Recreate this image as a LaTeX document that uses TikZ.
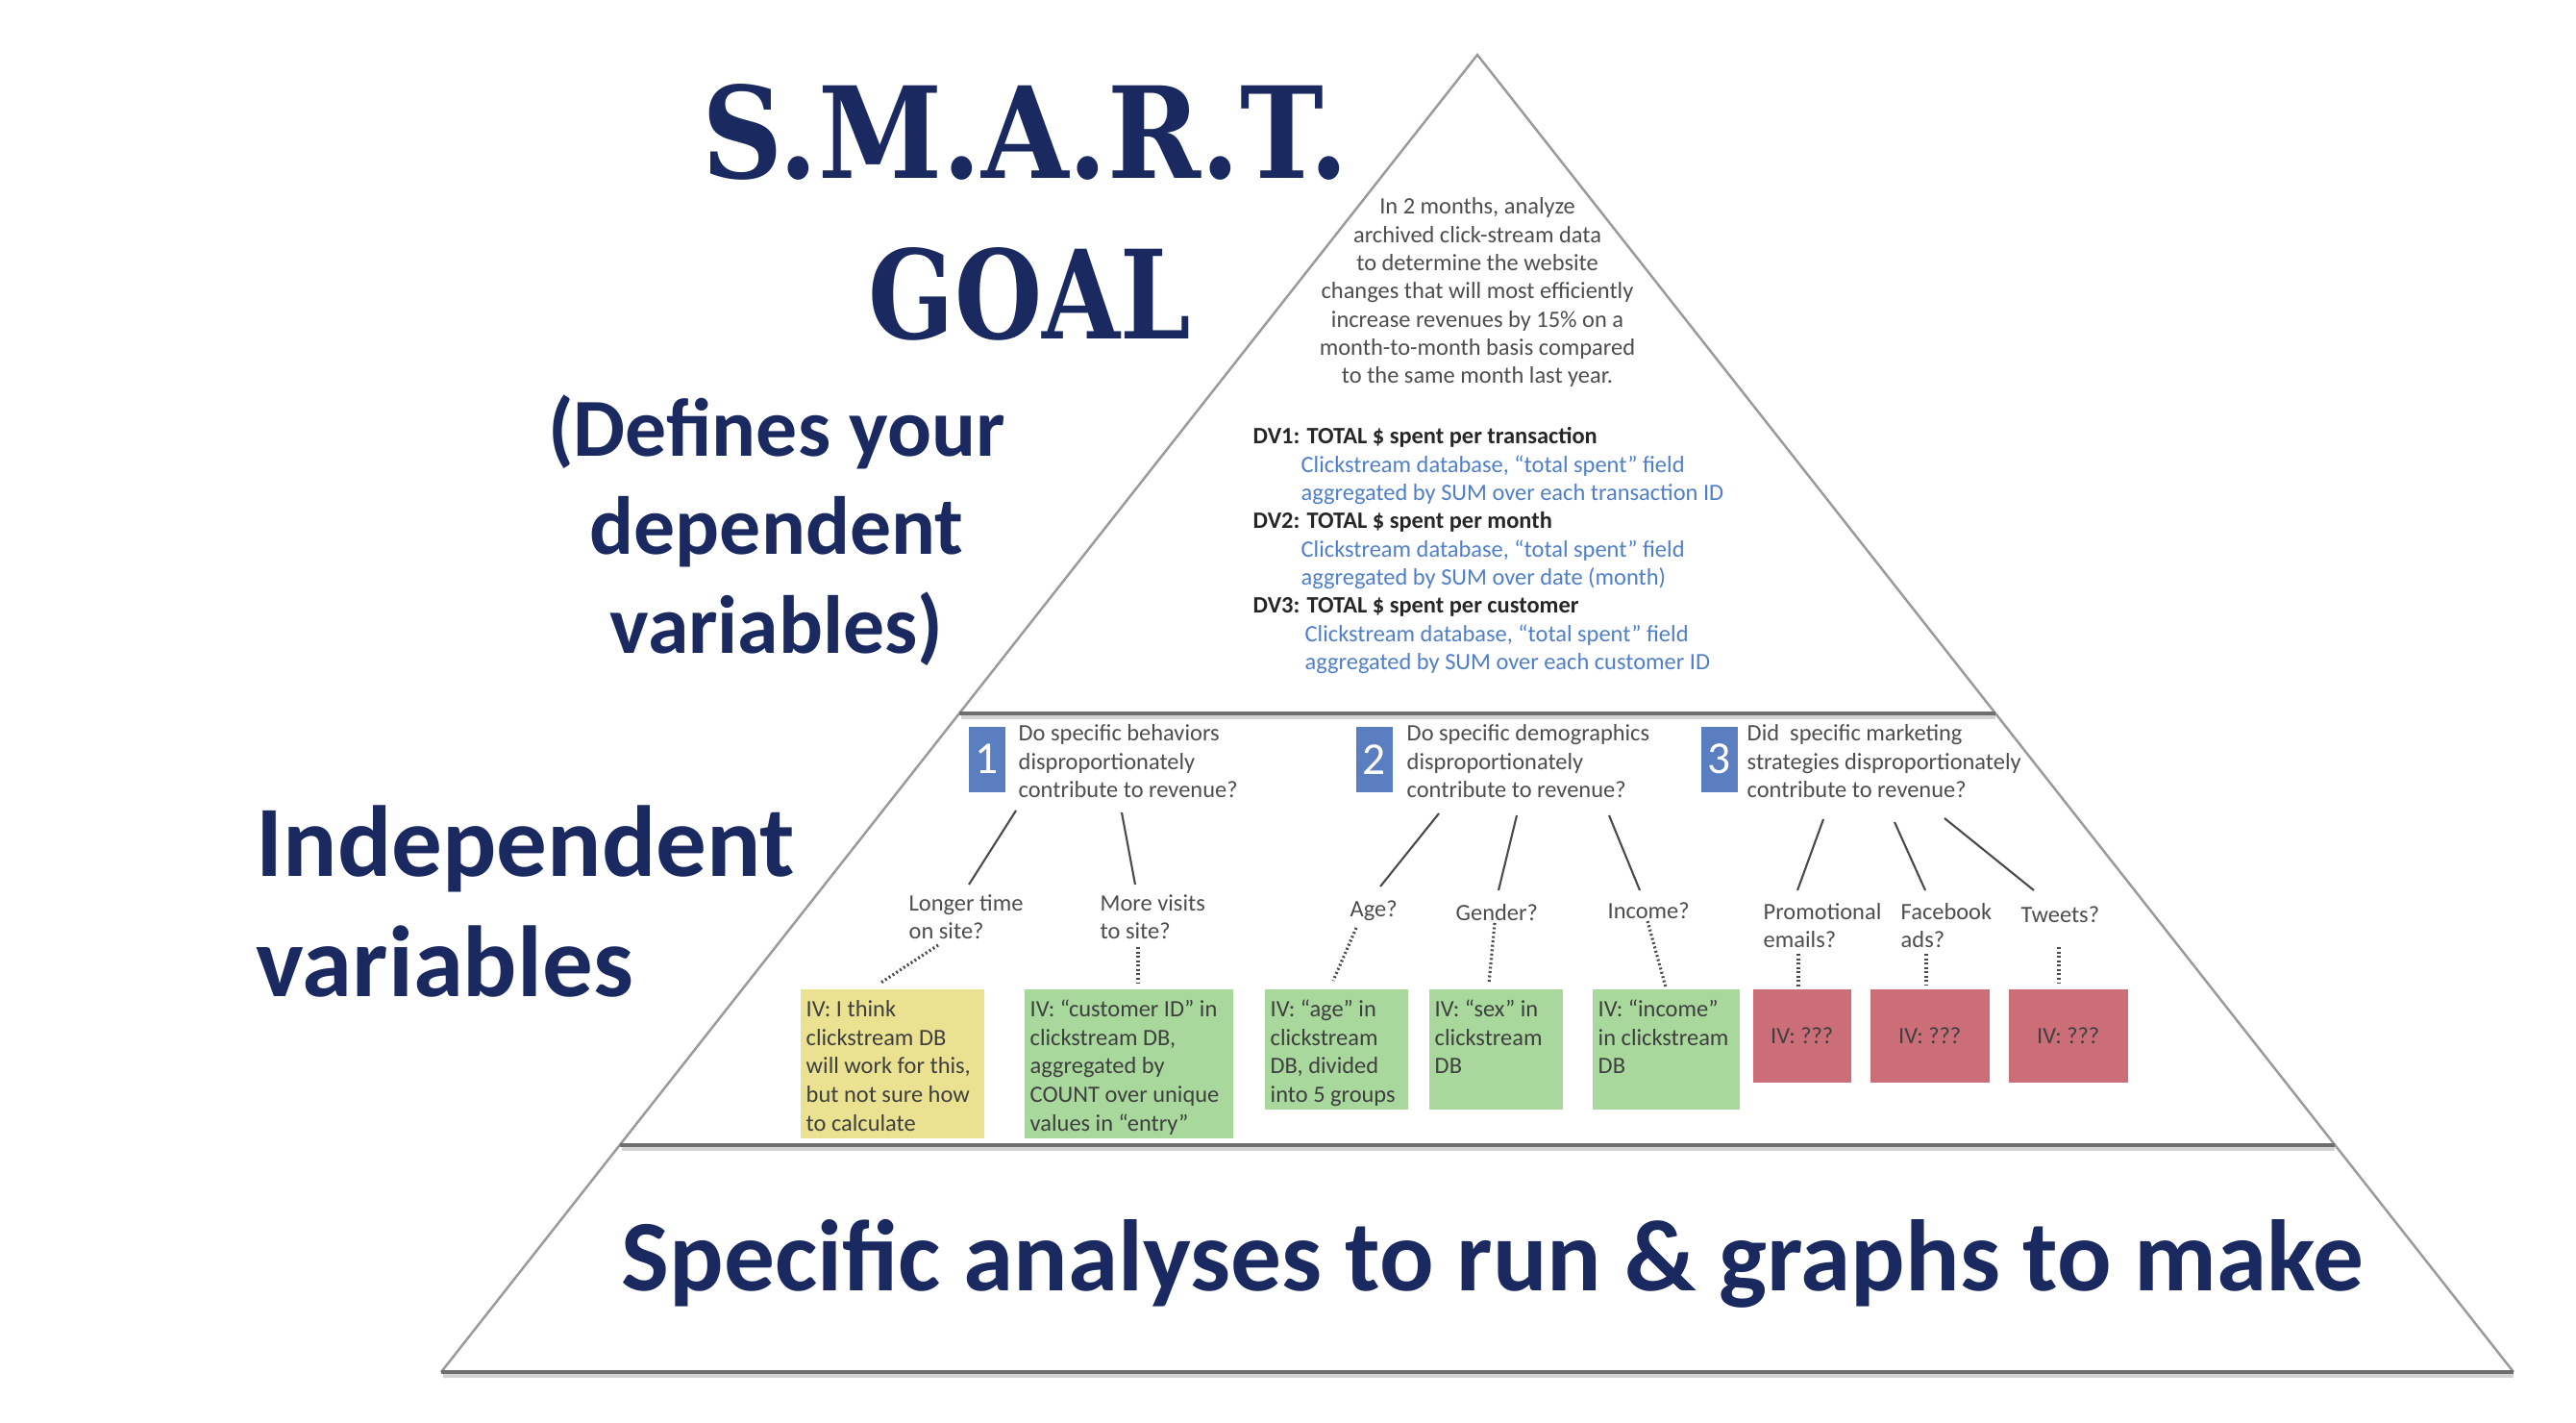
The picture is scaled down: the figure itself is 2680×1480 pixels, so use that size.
\documentclass[tikz,border=0pt]{standalone}
\usepackage{fontspec}
\setmainfont{Carlito}
\newfontfamily\titlefont{DejaVu Serif}
\usetikzlibrary{calc}

% one drawing unit = one pixel of a 2680 x 1480 canvas
\newlength\px
\setlength\px{0.1mm}

\definecolor{navy}{HTML}{1A2A60}
\definecolor{numblue}{HTML}{5B7EC0}
\definecolor{dvblue}{HTML}{4F7FCC}
\definecolor{txtgray}{HTML}{4D4D4D}
\definecolor{dvdark}{HTML}{262626}
\definecolor{boxtext}{HTML}{3F3F3F}
\definecolor{ivyellow}{HTML}{EAE290}
\definecolor{ivgreen}{HTML}{A8D89C}
\definecolor{ivred}{HTML}{CC6E78}
\definecolor{edgegray}{HTML}{9A9A9A}
\definecolor{rulegray}{HTML}{6E6E6E}
\definecolor{shadowgray}{HTML}{D2D2D2}
\definecolor{linkgray}{HTML}{4A4A4A}

\newcommand\smallfont{\fontsize{6.95}{8.35}\selectfont}
\newcommand\boxfont{\fontsize{6.95}{8.5}\selectfont}
% top-aligned text inside a filled box of given width and height (in px)
\newcommand\ivtext[3]{\parbox[b][#2\px][t]{#1\px}{\raggedright\leftskip=6\px
  \vspace*{7.5\px}\strut #3}}

\tikzset{
  small/.style={font=\smallfont, text=txtgray, inner sep=0pt,
    execute at begin node=\strut},
  bigtext/.style={font=\fontsize{29.9}{35.6}\selectfont\bfseries, text=navy,
    inner sep=0pt, execute at begin node=\strut},
  numbox/.style={fill=numblue, text=white, inner sep=0pt, anchor=north west,
    minimum width=3.8mm, minimum height=6.8mm,
    font=\fontsize{13.5}{16}\selectfont},
  ivbox/.style={inner sep=0pt, anchor=north west, font=\boxfont, text=boxtext},
  redbox/.style={fill=ivred, inner sep=0pt, anchor=north west,
    minimum height=9.7mm, font=\boxfont, text=boxtext},
  branch/.style={draw=linkgray, line width=0.6pt},
  dotlink/.style={draw=linkgray, line width=0.9pt, dash pattern=on 0.55pt off 0.75pt},
  edge/.style={draw=edgegray, line width=0.7pt},
  tierrule/.style={draw=rulegray, line width=1pt},
  tiershadow/.style={draw=shadowgray, line width=1.3pt},
}

\begin{document}
\begin{tikzpicture}[x=0.1mm, y=-0.1mm]
\fill[white] (0,0) rectangle (2680,1480);
\useasboundingbox (0,0) rectangle (2680,1480);

% ---------- pyramid outline and tier rules ----------
\coordinate (apex) at (1537,57);
\coordinate (bl) at (459,1427);
\coordinate (br) at (2615,1427);
\coordinate (r1l) at (998,742);
\coordinate (r1r) at (2076,742);
\coordinate (r2l) at (645,1191);
\coordinate (r2r) at (2429,1191);

\draw[tiershadow] ($(r1l)+(2,4)$) -- ($(r1r)+(0,4)$);
\draw[tiershadow] ($(r2l)+(2,4)$) -- ($(r2r)+(0,4)$);
\draw[tiershadow] ($(bl)+(2,4)$) -- ($(br)+(0,4)$);
\draw[edge] (bl) -- (apex) -- (br);
\draw[tierrule] (r1l) -- (r1r);
\draw[tierrule] (r2l) -- (r2r);
\draw[tierrule] (bl) -- (br);

% ---------- headings ----------
\node[anchor=base west, inner sep=0pt, text=navy] (smart) at (730,186)
  {\resizebox{672\px}{98\px}{\titlefont\bfseries S.M.A.R.T.}};
\node[anchor=base west, inner sep=0pt, text=navy] (goal) at (903,352)
  {\resizebox{335\px}{95\px}{\titlefont\bfseries GOAL}};

\node[font=\fontsize{24.4}{29.2}\selectfont\bfseries, text=navy, inner sep=0pt,
  execute at begin node=\strut, align=center, anchor=north] (defines) at (808,410)
  {(Defines your\\dependent\\variables)};

\node[bigtext, align=left, anchor=north west] (indep) at (266,837)
  {Independent\\variables};

\node[font=\fontsize{30}{36}\selectfont\bfseries, text=navy, inner sep=0pt,
  anchor=base] (analyses) at (1553,1342)
  {Specific analyses to run \& graphs to make};

% ---------- goal statement and dependent variables ----------
\node[small, align=center, anchor=north] (goaltext) at (1537,205)
  {In 2 months, analyze\\archived click-stream data\\to determine the website\\
   changes that will most efficiently\\increase revenues by 15\% on a\\
   month-to-month basis compared\\to the same month last year.};

\node[small, align=left, anchor=north west] (dvs) at (1303,444)
  {{\color{dvdark}\bfseries DV1: TOTAL \$ spent per transaction}\\
   \hspace*{50\px}{\color{dvblue}Clickstream database, “total spent” field}\\
   \hspace*{50\px}{\color{dvblue}aggregated by SUM over each transaction ID}\\
   {\color{dvdark}\bfseries DV2: TOTAL \$ spent per month}\\
   \hspace*{50\px}{\color{dvblue}Clickstream database, “total spent” field}\\
   \hspace*{50\px}{\color{dvblue}aggregated by SUM over date (month)}\\
   {\color{dvdark}\bfseries DV3: TOTAL \$ spent per customer}\\
   \hspace*{54\px}{\color{dvblue}Clickstream database, “total spent” field}\\
   \hspace*{54\px}{\color{dvblue}aggregated by SUM over each customer ID}};

% ---------- research questions ----------
\node[numbox] (n1) at (1007,755) {1};
\node[numbox] (n2) at (1410,755) {2};
\node[numbox] (n3) at (1769,755) {3};

\node[small, align=left, anchor=north west] (q1) at (1059,753)
  {Do specific behaviors\\disproportionately\\contribute to revenue?};
\node[small, align=left, anchor=north west] (q2) at (1463,753)
  {Do specific demographics\\disproportionately\\contribute to revenue?};
\node[small, align=left, anchor=north west] (q3) at (1817,753)
  {Did\ \ specific marketing\\strategies disproportionately\\contribute to revenue?};

% ---------- candidate factors ----------
\node[small, align=left, anchor=north west] (l1) at (945,929.5) {Longer time\\on site?};
\node[small, align=left, anchor=north west] (l2) at (1144,929.5) {More visits\\to site?};
\node[small, anchor=north west] (l3) at (1404,932) {Age?};
\node[small, anchor=north west] (l4) at (1514,936) {Gender?};
\node[small, anchor=north west] (l5) at (1672,934) {Income?};
\node[small, align=left, anchor=north west] (l6) at (1834,938.5) {Promotional\\emails?};
\node[small, align=left, anchor=north west] (l7) at (1977,938.5) {Facebook\\ads?};
\node[small, anchor=north west] (l8) at (2102,938.5) {Tweets?};

% ---------- independent variable boxes ----------
\node[ivbox, fill=ivyellow] (iv1) at (832,1028)
  {\ivtext{191}{155}{IV: I think\\clickstream DB\\will work for this,\\but not sure how\\to calculate}};
\node[ivbox, fill=ivgreen] (iv2) at (1065,1028)
  {\ivtext{217}{155}{IV: “customer ID” in\\clickstream DB,\\aggregated by\\COUNT over unique\\values in “entry”}};
\node[ivbox, fill=ivgreen] (iv3) at (1315,1028)
  {\ivtext{149}{125}{IV: “age” in\\clickstream\\DB, divided\\into 5 groups}};
\node[ivbox, fill=ivgreen] (iv4) at (1486,1028)
  {\ivtext{139}{125}{IV: “sex” in\\clickstream\\DB}};
\node[ivbox, fill=ivgreen] (iv5) at (1656,1028)
  {\ivtext{153}{125}{IV: “income”\\in clickstream\\DB}};
\node[redbox, minimum width=10.2mm] (iv6) at (1823,1028) {IV: ???};
\node[redbox, minimum width=12.4mm] (iv7) at (1945,1028) {IV: ???};
\node[redbox, minimum width=12.4mm] (iv8) at (2089,1028) {IV: ???};

% ---------- question -> factor links ----------
\draw[branch] ($(q1.north west)+(-2,90)$) -- ($(l1.north west)+(63,-9.5)$);
\draw[branch] ($(q1.north west)+(108,92)$) -- ($(l2.north west)+(37,-9.5)$);
\draw[branch] ($(q2.north west)+(34,93)$) -- ($(l3.north west)+(32,-10)$);
\draw[branch] ($(q2.north west)+(115,95)$) -- ($(l4.north west)+(45,-10)$);
\draw[branch] ($(q2.north west)+(211,95)$) -- ($(l5.north west)+(34,-8)$);
\draw[branch] ($(q3.north west)+(80,99)$) -- ($(l6.north west)+(36,-12.5)$);
\draw[branch] ($(q3.north west)+(154,102)$) -- ($(l7.north west)+(26,-12.5)$);
\draw[branch] ($(q3.north west)+(206,98)$) -- ($(l8.north west)+(14,-12.5)$);

% ---------- factor -> variable links ----------
\draw[dotlink] ($(l1.north west)+(31,53.5)$) -- ($(iv1.north west)+(83,-5)$);
\draw[dotlink] ($(l2.north west)+(40,55.5)$) -- ($(iv2.north west)+(119,-6)$);
\draw[dotlink] ($(l3.north west)+(7,33)$) -- ($(iv3.north west)+(72,-8)$);
\draw[dotlink] ($(l4.north west)+(41,24)$) -- ($(iv4.north west)+(63,-5)$);
\draw[dotlink] ($(l5.north west)+(42,24)$) -- ($(iv5.north west)+(77,-1)$);
\draw[dotlink] ($(l6.north west)+(37,53.5)$) -- ($(iv6.north west)+(48,-1)$);
\draw[dotlink] ($(l7.north west)+(27,53.5)$) -- ($(iv7.north west)+(59,-3)$);
\draw[dotlink] ($(l8.north west)+(40,46.5)$) -- ($(iv8.north west)+(53,-5)$);
\end{tikzpicture}
\end{document}
